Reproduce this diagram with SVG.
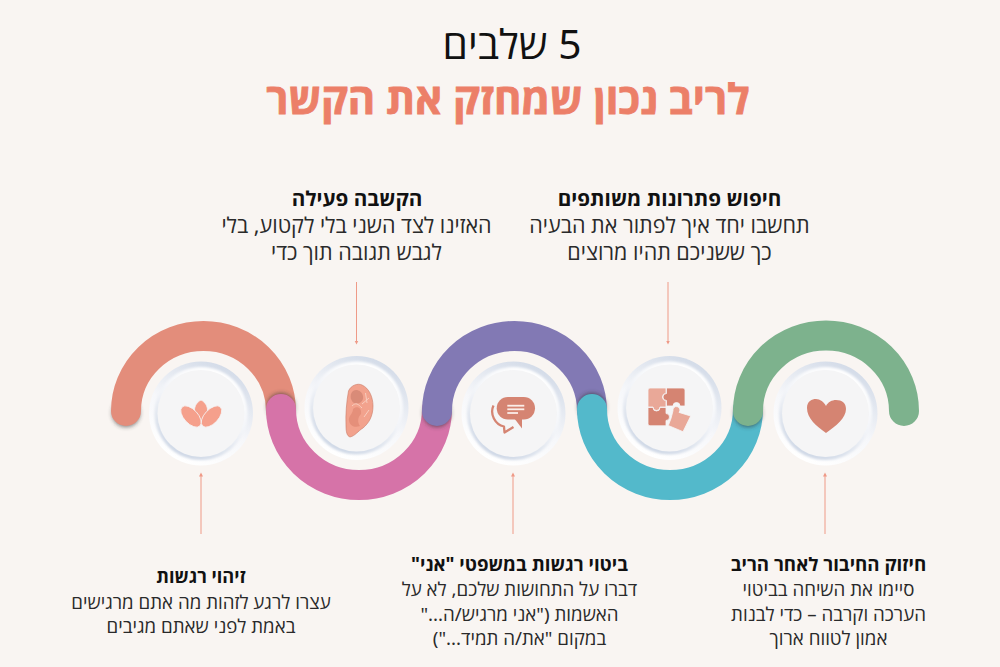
<svg xmlns="http://www.w3.org/2000/svg" width="1000" height="667" viewBox="0 0 1000 667">
<defs>
<linearGradient id="g1" x1="0.75" y1="0.05" x2="0.3" y2="0.95"><stop offset="0" stop-color="#d3dbe8"/><stop offset="0.55" stop-color="#f6f7fa"/><stop offset="1" stop-color="#ffffff"/></linearGradient>
<linearGradient id="g2" x1="0.75" y1="0.05" x2="0.3" y2="0.95"><stop offset="0" stop-color="#ffffff"/><stop offset="0.5" stop-color="#f2f4f8"/><stop offset="1" stop-color="#cfd8e6"/></linearGradient>
<filter id="blur" x="-50%" y="-50%" width="200%" height="200%"><feGaussianBlur stdDeviation="2"/></filter>
<filter id="s1" x="-20%" y="-20%" width="140%" height="140%"><feGaussianBlur stdDeviation="1.200"/></filter>
<filter id="s2" x="-20%" y="-20%" width="140%" height="140%"><feGaussianBlur stdDeviation="0.700"/></filter>
<marker id="a" markerWidth="5" markerHeight="5" refX="2.500" refY="2.500" orient="auto"><path d="M0 0.500L4 2.500L0 4.500z" fill="#ef9a87"/></marker>
<g id="disc">
<circle r="52" fill="url(#g1)" filter="url(#s2)"/>
<circle r="46.500" fill="url(#g2)" filter="url(#s1)"/>
<circle r="43.500" fill="#f5f5f6" filter="url(#s2)"/>
</g>
</defs>
<style>
text{font-family:"Noto Sans","Open Sans","Liberation Sans",sans-serif;direction:rtl;text-anchor:middle;fill:#2a2a2a}
.b{font-weight:700;fill:#111}
.up{font-size:20.700px}
.ub{font-size:21.500px}
.lo{font-size:18.700px}
.arc{fill:none;stroke-width:30;stroke-linecap:round}
.cn{stroke:#ef9a87;stroke-width:1;marker-end:url(#a);fill:none}
.sh{fill:#303030;opacity:.6;filter:url(#blur)}
</style>
<rect width="1000" height="667" fill="#f9f5f2"/>
<g id="title">
<text x="512" y="59" font-size="40.700" style="fill:#111">5 שלבים</text>
<text x="508" y="114" font-size="41.700" class="b" style="fill:#ec7f68;stroke:#ec7f68;stroke-width:.8">לריב נכון שמחזק את הקשר</text>
</g>
<g id="connectors">
<circle class="sh" cx="126" cy="413" r="14"/>
<path class="arc" stroke="#e38d7b" d="M126 411A77.500 75 0 0 1 281 411"/>
<circle class="sh" cx="281" cy="407" r="14"/>
<path class="arc" stroke="#d673a8" d="M281 409A77.500 75.500 0 0 0 437 409"/>
<circle class="sh" cx="437" cy="413" r="14"/>
<path class="arc" stroke="#8279b4" d="M437 411A77.500 75 0 0 1 592 411"/>
<circle class="sh" cx="592" cy="407" r="14"/>
<path class="arc" stroke="#53b9cb" d="M592 409A77.500 75.500 0 0 0 748 409"/>
<circle class="sh" cx="748" cy="413" r="14"/>
<path class="arc" stroke="#7db28d" d="M748 411A77.500 75 0 0 1 904 411"/>
<line class="cn" x1="201" y1="534" x2="201" y2="474"/>
<line class="cn" x1="356.500" y1="282" x2="356.500" y2="343"/>
<line class="cn" x1="513" y1="534" x2="513" y2="474"/>
<line class="cn" x1="668" y1="282" x2="668" y2="343"/>
<line class="cn" x1="825" y1="534" x2="825" y2="474"/>
</g>
<g id="node1">
<use href="#disc" x="201" y="413.500"/>
<g fill="#f5a08c" stroke="#f5f5f6" stroke-width="0.800">
<path d="M201 400C205 402 207.500 406 207.500 410C207.500 414 204 418 201 421C198 418 194.500 414 194.500 410C194.500 406 197 402 201 400z"/>
<ellipse cx="191" cy="416.500" rx="13" ry="7" transform="rotate(47 191 416.500)"/>
<ellipse cx="211.500" cy="416.500" rx="13" ry="7" transform="rotate(-47 211.500 416.500)"/>
</g>
<text class="b" font-size="18.200" x="201" y="583">זיהוי רגשות</text>
<text class="lo" x="201" y="609">עצרו לרגע לזהות מה אתם מרגישים</text>
<text class="lo" x="201" y="633">באמת לפני שאתם מגיבים</text>
</g>
<g id="node2">
<use href="#disc" x="356.500" y="408"/>
<path d="M348.500 391C351 385 358 383 362 385C369 388 373 397 373 406C373 416 369 423 363 428C358 431 355 436 350 437C347 436 346 432 346 426C345.500 414 346.500 402 348.500 391z" fill="#f2a28d" stroke="#c97a66" stroke-width=".6"/>
<path d="M351 394C353 388 361 389 363 396C364 402 358 405 354 403C351 401 350 397 351 394z" fill="#d98b78"/>
<path d="M349 421C348 416 353 414 353 409C357 405 362 408 361 414C358 417 357 422 360 426C355 428 350 426 349 421z" fill="#e58f7a"/>
<path d="M365.500 393L367 403M362 404L369 398M364 417L369 410M352 406C356 402 358 404 362 408" stroke="#f8cdbf" stroke-width="1" fill="none"/>
<text class="b up" x="357" y="206">הקשבה פעילה</text>
<text class="ub" x="356.500" y="233">האזינו לצד השני בלי לקטוע, בלי</text>
<text class="ub" x="356.500" y="260">לגבש תגובה תוך כדי</text>
</g>
<g id="node3">
<use href="#disc" x="513.500" y="413.500"/>
<rect x="496.700" y="397" width="38.300" height="22.500" rx="11.200" fill="#d58472"/>
<path d="M514 418L522 428.500L522 418z" fill="#d58472"/>
<path d="M493.500 405.500C489.500 414 495 424.500 504 426.500L504.500 432.500L513.500 427" fill="none" stroke="#d58472" stroke-width="2.300" stroke-linejoin="round"/>
<g stroke="#fbeee9" stroke-width="1.800"><line x1="507.300" y1="405.700" x2="524.300" y2="405.700"/><line x1="507.300" y1="409.300" x2="524.300" y2="409.300"/><line x1="507.300" y1="413" x2="518" y2="413"/></g>
<text class="b" font-size="18.700" x="519.500" y="571">ביטוי רגשות במשפטי "אני"</text>
<text class="lo" x="519.500" y="596">דברו על התחושות שלכם, לא על</text>
<text class="lo" x="519.500" y="621">האשמות ("אני מרגיש/ה..."</text>
<text class="lo" x="519.500" y="645">במקום "את/ה תמיד...")</text>
</g>
<g id="node4">
<use href="#disc" x="669.500" y="408"/>
<g stroke="#f5f5f6" stroke-width="0.800">
<path d="M650 388H666V393.500A3.500 3.500 0 0 0 666 400.500V407H660A3.500 3.500 0 0 1 653 407H648V390Q648 388 650 388z" fill="#e9a898"/>
<path d="M666.500 388H683Q685 388 685 390V406H680A3.500 3.500 0 0 0 673 406H666.500V400.500A3.500 3.500 0 0 1 666.500 393.500z" fill="#d58472"/>
<path d="M648 407.500H653A3.500 3.500 0 0 0 660 407.500H666V413.500A3.500 3.500 0 0 1 666 420.500V425.800H650Q648 425.800 648 424z" fill="#d58472"/>
<path d="M673 410.800A3.500 3.500 0 1 1 679 412.400L690.700 416L683 431.700L668.300 425.500L671 418.500z" fill="#e9a898"/>
</g>
<text class="b up" x="669.500" y="206">חיפוש פתרונות משותפים</text>
<text class="ub" x="669.500" y="233">תחשבו יחד איך לפתור את הבעיה</text>
<text class="ub" x="669.500" y="260">כך ששניכם תהיו מרוצים</text>
</g>
<g id="node5">
<use href="#disc" x="825.500" y="413.500"/>
<path d="M826 433C816 426 807 418 807 408C807 401 812 399 816 399C820 399 824 402 826 406C828 402 832 400 836 400C842 400 846 403 846 409C846 418 836 426 826 433z" fill="#d58472"/>
<text class="b" font-size="18.700" x="828.500" y="571">חיזוק החיבור לאחר הריב</text>
<text class="lo" x="828.500" y="596">סיימו את השיחה בביטוי</text>
<text class="lo" x="828.500" y="621">הערכה וקרבה – כדי לבנות</text>
<text class="lo" x="828.500" y="645">אמון לטווח ארוך</text>
</g>
</svg>
